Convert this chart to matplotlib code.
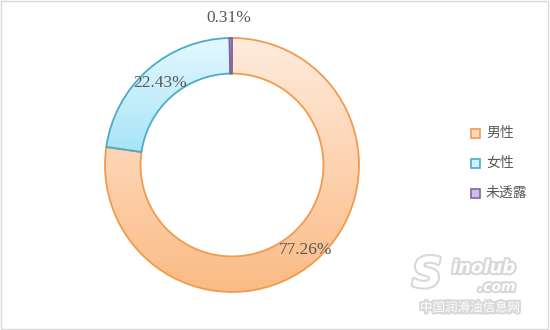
import matplotlib
matplotlib.use("Agg")
import matplotlib.pyplot as plt
import matplotlib.patheffects as pe
from matplotlib.patches import Rectangle
from matplotlib.colors import LinearSegmentedColormap
import numpy as np

categories = ["男性", "女性", "未透露"]
values = [77.26, 22.43, 0.31]
face_colors = ["#FDDCC2", "#CFF1FC", "#CDBFE6"]
grad_top = ["#FFEBDD", "#E4F8FE", "#D8CCEC"]
grad_bottom = ["#FBBB85", "#A8E4F8", "#B9A7D8"]
edge_colors = ["#F19B4E", "#4BACC6", "#8064A2"]

fig = plt.figure(figsize=(5.5, 3.3), dpi=100)
fig.patch.set_facecolor("white")

# frame
fig.add_artist(Rectangle((0.002, 0.004), 0.994, 0.992, transform=fig.transFigure,
                         fill=False, edgecolor="#D9D9D9", linewidth=1.0))

ax = fig.add_axes([0.1909, 0.1152, 0.4618, 0.7697])
wedges, texts, autotexts = ax.pie(
    values, startangle=90, counterclock=False, radius=1.0,
    colors=face_colors,
    wedgeprops=dict(width=0.28, linewidth=1.3),
    autopct=lambda p: f"{p:.2f}%", pctdistance=0.86,
    textprops=dict(color="#595959", fontsize=12.5, family="Liberation Serif"))
grad = np.linspace(0, 1, 256).reshape(-1, 1)
for w, ec, ct, cb in zip(wedges, edge_colors, grad_top, grad_bottom):
    ext = w.get_path().get_extents()
    cmap = LinearSegmentedColormap.from_list("g", [ct, cb])
    im = ax.imshow(grad, cmap=cmap, extent=[ext.x0, ext.x1, ext.y0, ext.y1],
                   origin="upper", aspect="auto", zorder=1, interpolation="bilinear")
    im.set_clip_path(w)
    w.set_facecolor("none")
    w.set_edgecolor(ec)
    w.set_zorder(2)
for t in autotexts:
    t.set_zorder(3)
# move small-slice label outside
w = wedges[2]
th = np.deg2rad((w.theta1 + w.theta2) / 2)
autotexts[2].set_position((1.157 * np.cos(th) - 0.01, 1.157 * np.sin(th)))
autotexts[0].set_position((autotexts[0].get_position()[0] + 0.02,
                           autotexts[0].get_position()[1] - 0.02))
ax.set_xlim(-1, 1)
ax.set_ylim(-1, 1)
ax.set_aspect("equal")
ax.axis("off")

# legend
leg_y = [133, 163, 193]
for cat, fc, ec, y in zip(categories, face_colors, edge_colors, leg_y):
    fig.add_artist(Rectangle((471 / 550, 1 - (y + 4.5) / 330), 9 / 550, 9 / 330,
                             transform=fig.transFigure, facecolor=fc,
                             edgecolor=ec, linewidth=1.2))
    fig.text(486 / 550, 1 - y / 330, cat, fontsize=10, color="#595959",
             va="center", ha="left", family=["Noto Sans CJK SC", "DejaVu Sans"])

# watermark
shadow = [pe.withStroke(linewidth=3, foreground="#D8D8D8")]
fig.text(412 / 550, 1 - 275 / 330, "S", fontsize=30, color="white", style="italic",
         fontweight="bold", va="center", ha="left", path_effects=shadow)
fig.text(452 / 550, 1 - 268 / 330, "inolub", fontsize=13, color="white", style="italic",
         fontweight="bold", va="center", ha="left", path_effects=shadow)
fig.text(478 / 550, 1 - 287 / 330, ".com", fontsize=10, color="white", style="italic",
         fontweight="bold", va="center", ha="left", path_effects=shadow)
fig.text(470 / 550, 1 - 308 / 330, "中国润滑油信息网", fontsize=9, color="white",
         va="center", ha="center", family=["Noto Sans CJK SC", "DejaVu Sans"],
         path_effects=shadow)

fig.savefig("out.png", dpi=100, facecolor="white")
